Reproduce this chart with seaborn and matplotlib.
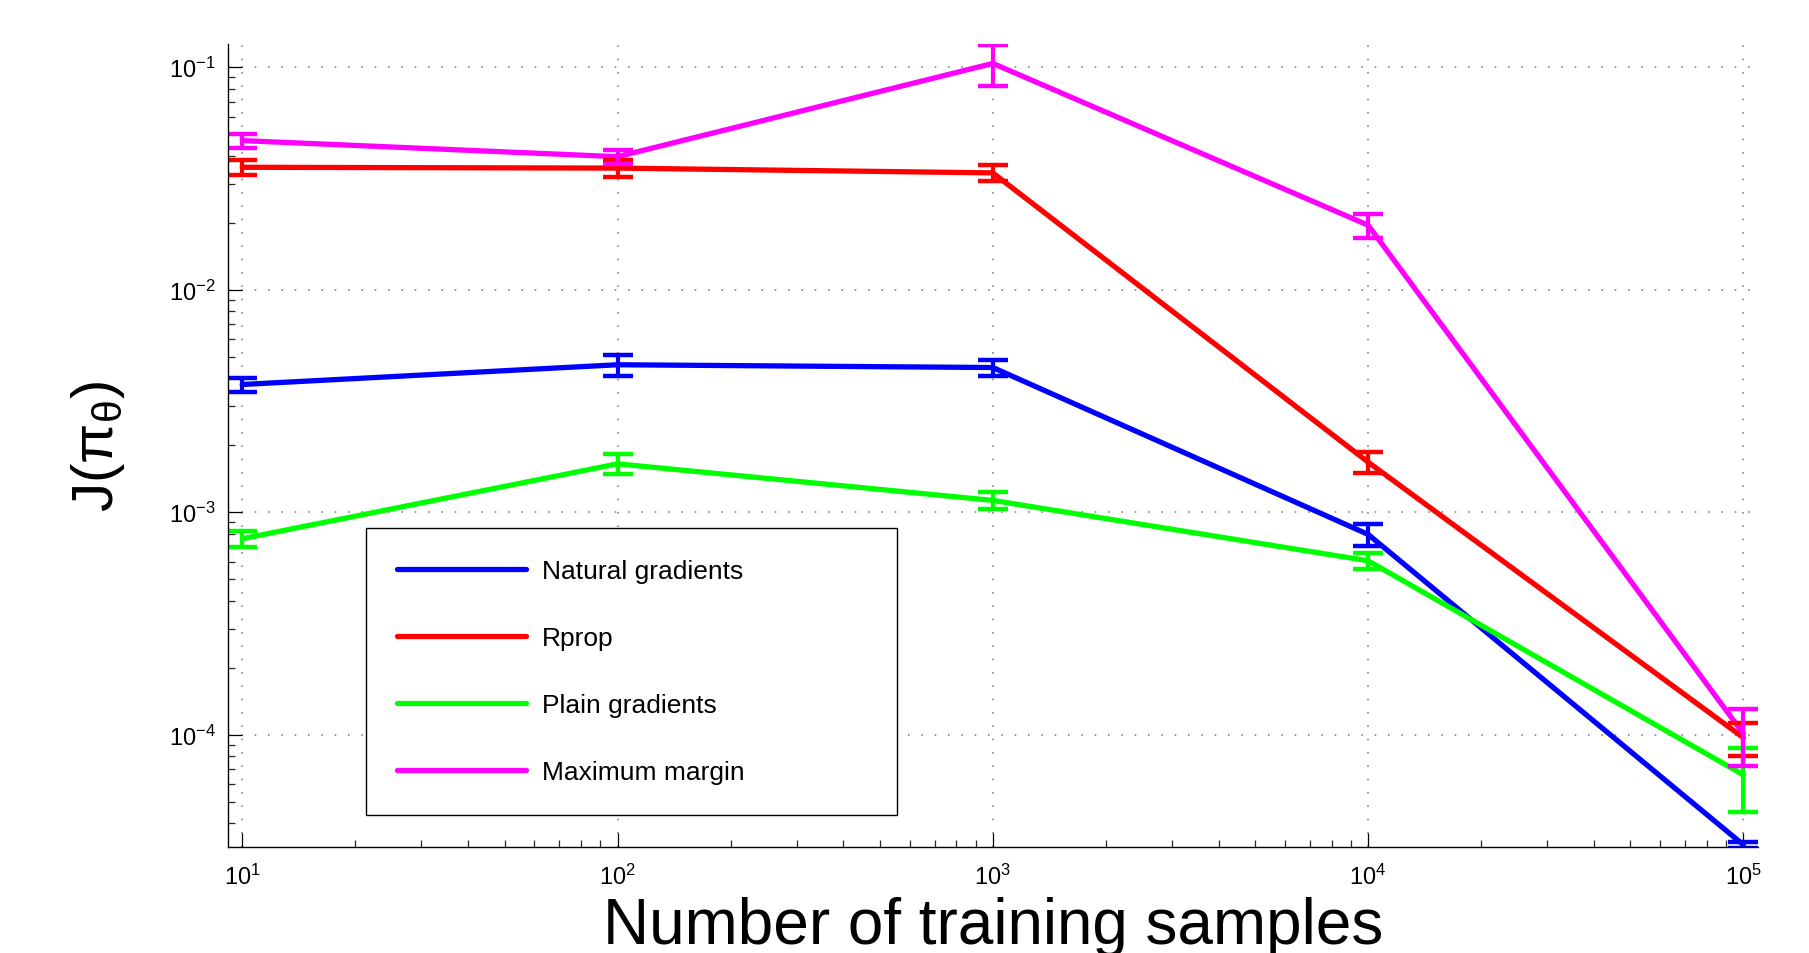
import numpy as np
import pandas as pd
import seaborn as sns
import matplotlib
matplotlib.use('Agg')
import matplotlib.pyplot as plt


samples = [10, 100, 1000, 10000, 100000]
methods = ['Natural gradients', 'Rprop', 'Plain gradients', 'Maximum margin']

natural = [3.75e-3, 4.6e-3, 4.47e-3, 7.95e-4, 3.2e-5]
natural_err = [0.27e-3, 0.5e-3, 0.38e-3, 0.87e-4, 0.1e-5]
rprop = [3.55e-2, 3.52e-2, 3.35e-2, 1.68e-3, 9.7e-5]
rprop_err = [2.7e-3, 3.1e-3, 2.7e-3, 1.8e-4, 1.65e-5]
plain = [7.6e-4, 1.65e-3, 1.13e-3, 6.05e-4, 6.6e-5]
plain_err = [0.6e-4, 1.7e-4, 1.0e-4, 0.5e-4, 2.1e-5]
maxmargin = [4.68e-2, 3.96e-2, 1.04e-1, 1.95e-2, 1.01e-4]
maxmargin_err = [3.3e-3, 3.0e-3, 2.2e-2, 2.4e-3, 2.9e-5]

colors = ['#0000ff', '#ff0000', '#00ff00', '#ff00ff']


def long_df():
    values = [natural, rprop, plain, maxmargin]
    frames = []
    for name, vals in zip(methods, values):
        frames.append(pd.DataFrame({'samples': samples, 'J': vals, 'method': name}))
    return pd.concat(frames, ignore_index=True)


sns.set_style('ticks')
plt.rcParams['font.family'] = ['Liberation Sans', 'DejaVu Sans']
plt.rcParams['mathtext.fontset'] = 'custom'
plt.rcParams['mathtext.rm'] = 'Liberation Sans'
plt.rcParams['mathtext.it'] = 'Liberation Sans:italic'
plt.rcParams['mathtext.bf'] = 'Liberation Sans:bold'
plt.rcParams['text.color'] = 'black'
plt.rcParams['axes.labelcolor'] = 'black'

fig = plt.figure(figsize=(18.09, 9.54), dpi=100)
ax = fig.add_axes([0.126, 0.111, 0.846, 0.842])

df = long_df()
sns.lineplot(data=df, x='samples', y='J', hue='method', hue_order=methods,
             palette=colors, linewidth=3.8, errorbar=None, sort=False, ax=ax)

errs = [natural_err, rprop_err, plain_err, maxmargin_err]
vals = [natural, rprop, plain, maxmargin]
for v, e, c in zip(vals, errs, colors):
    ax.errorbar(samples, v, yerr=e, fmt='none', ecolor=c, elinewidth=3.0,
                capsize=10.8, capthick=3.2, zorder=2.5)

ax.set_xscale('log')
ax.set_yscale('log')
ax.set_xlim(9.16, 1.096e5)
ax.set_ylim(10 ** -4.505, 10 ** -0.895)

ax.grid(True, which='major', linestyle=(0, (1, 7)), color='#888888', linewidth=1.2)
ax.grid(False, which='minor')

for side in ['top', 'right']:
    ax.spines[side].set_visible(False)
for side in ['left', 'bottom']:
    ax.spines[side].set_color('black')
    ax.spines[side].set_linewidth(1.0)

ax.tick_params(which='major', direction='in', length=10, width=0.9,
               labelsize=17, colors='black')
ax.tick_params(axis='y', which='major', pad=9)
ax.tick_params(axis='x', which='major', pad=12)
ax.tick_params(which='minor', direction='in', length=5, width=0.9)

ax.set_xlabel('Number of training samples', fontsize=46, labelpad=5)
ax.set_ylabel(r'J($\mathregular{\pi_\theta}$)', fontsize=42, labelpad=30)

handles = ax.get_legend().legend_handles
for h in handles:
    h.set_linewidth(3.8)
leg = ax.legend(handles, methods, loc='lower left',
                bbox_to_anchor=(0.090, 0.040, 0.347, 0.358), mode='expand',
                borderaxespad=0, fontsize=19, handlelength=4.9,
                handletextpad=0.6, labelspacing=1.63, borderpad=1.18,
                fancybox=False, framealpha=1, edgecolor='black')
leg.get_frame().set_linewidth(1.0)

fig.savefig('out.png', dpi=100)
